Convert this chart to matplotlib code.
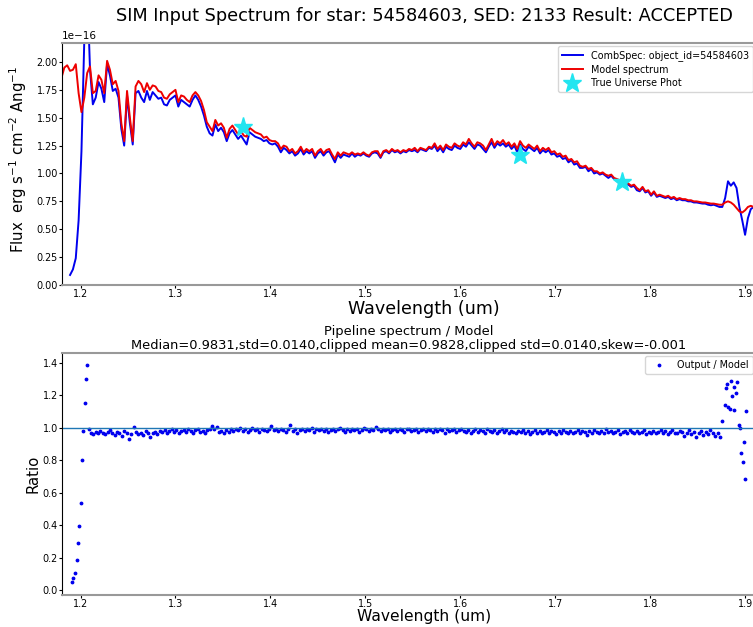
import numpy as np
import matplotlib.pyplot as plt

# spectrum grid (um)
wave = 1.180 + 0.003 * np.arange(244)

# model spectrum, units of 1e-16 erg/s/cm2/Ang
model_flux = [
    1.86, 1.95, 1.97, 1.92, 1.93, 1.98, 1.72, 1.55, 1.68, 1.90,
    1.96, 1.72, 1.74, 1.88, 1.84, 1.72, 2.01, 1.93, 1.80, 1.83,
    1.74, 1.45, 1.29, 1.74, 1.50, 1.29, 1.78, 1.83, 1.80, 1.73,
    1.81, 1.75, 1.79, 1.78, 1.74, 1.73, 1.68, 1.67, 1.71, 1.73,
    1.75, 1.64, 1.70, 1.69, 1.66, 1.64, 1.70, 1.73, 1.70, 1.65,
    1.57, 1.46, 1.42, 1.38, 1.48, 1.43, 1.45, 1.41, 1.32, 1.40,
    1.43, 1.39, 1.35, 1.38, 1.34, 1.33, 1.41, 1.39, 1.37, 1.36,
    1.35, 1.32, 1.33, 1.30, 1.29, 1.29, 1.27, 1.22, 1.25, 1.24,
    1.20, 1.22, 1.18, 1.20, 1.24, 1.19, 1.22, 1.20, 1.22, 1.16,
    1.20, 1.22, 1.18, 1.21, 1.22, 1.17, 1.13, 1.19, 1.16, 1.19,
    1.18, 1.17, 1.19, 1.17, 1.18, 1.17, 1.19, 1.17, 1.16, 1.19,
    1.20, 1.20, 1.15, 1.20, 1.21, 1.19, 1.22, 1.20, 1.21, 1.19,
    1.21, 1.20, 1.22, 1.21, 1.23, 1.20, 1.23, 1.22, 1.21, 1.24,
    1.23, 1.27, 1.22, 1.25, 1.21, 1.26, 1.24, 1.23, 1.27, 1.25,
    1.24, 1.28, 1.26, 1.31, 1.27, 1.24, 1.28, 1.27, 1.25, 1.21,
    1.26, 1.31, 1.25, 1.29, 1.27, 1.30, 1.26, 1.28, 1.24, 1.27,
    1.22, 1.29, 1.25, 1.23, 1.26, 1.24, 1.22, 1.25, 1.20, 1.23,
    1.21, 1.23, 1.19, 1.20, 1.17, 1.18, 1.15, 1.16, 1.12, 1.13,
    1.10, 1.11, 1.07, 1.06, 1.07, 1.04, 1.05, 1.02, 1.02, 1.00,
    1.01, 0.99, 0.98, 0.99, 0.96, 0.95, 0.94, 0.93, 0.92, 0.91,
    0.89, 0.90, 0.87, 0.85, 0.88, 0.84, 0.85, 0.81, 0.84, 0.80,
    0.81, 0.80, 0.79, 0.80, 0.78, 0.79, 0.77, 0.78, 0.77, 0.77,
    0.76, 0.76, 0.75, 0.75, 0.745, 0.74, 0.74, 0.735, 0.73, 0.73,
    0.725, 0.72, 0.72, 0.74, 0.75, 0.74, 0.72, 0.69, 0.66, 0.65,
    0.67, 0.70, 0.71, 0.70,
]

# combined (pipeline) spectrum on the same grid
obs_flux = [
    np.nan, np.nan, np.nan, 0.09, 0.14, 0.24, 0.58, 1.20, 2.20, 2.70,
    1.93, 1.62, 1.68, 1.82, 1.76, 1.64, 1.98, 1.88, 1.74, 1.76,
    1.68, 1.40, 1.25, 1.70, 1.45, 1.26, 1.72, 1.74, 1.68, 1.64,
    1.74, 1.66, 1.73, 1.70, 1.67, 1.68, 1.62, 1.61, 1.66, 1.68,
    1.70, 1.60, 1.66, 1.64, 1.62, 1.60, 1.66, 1.70, 1.66, 1.60,
    1.52, 1.42, 1.36, 1.34, 1.44, 1.38, 1.41, 1.37, 1.29, 1.36,
    1.39, 1.35, 1.31, 1.34, 1.30, 1.26, 1.37, 1.35, 1.33, 1.32,
    1.31, 1.29, 1.30, 1.27, 1.26, 1.27, 1.24, 1.19, 1.23, 1.21,
    1.18, 1.20, 1.16, 1.18, 1.22, 1.17, 1.20, 1.18, 1.20, 1.14,
    1.18, 1.20, 1.16, 1.19, 1.20, 1.15, 1.10, 1.17, 1.14, 1.17,
    1.16, 1.15, 1.18, 1.15, 1.17, 1.16, 1.18, 1.16, 1.15, 1.18,
    1.19, 1.18, 1.14, 1.19, 1.20, 1.18, 1.21, 1.19, 1.20, 1.18,
    1.20, 1.19, 1.21, 1.20, 1.21, 1.19, 1.22, 1.21, 1.20, 1.23,
    1.22, 1.25, 1.20, 1.23, 1.19, 1.24, 1.22, 1.21, 1.25, 1.23,
    1.22, 1.26, 1.24, 1.28, 1.25, 1.22, 1.26, 1.25, 1.22, 1.19,
    1.24, 1.28, 1.23, 1.27, 1.25, 1.27, 1.24, 1.26, 1.22, 1.25,
    1.19, 1.26, 1.22, 1.20, 1.24, 1.22, 1.20, 1.23, 1.18, 1.21,
    1.19, 1.21, 1.17, 1.18, 1.15, 1.16, 1.13, 1.14, 1.10, 1.12,
    1.08, 1.09, 1.05, 1.05, 1.06, 1.02, 1.04, 1.00, 1.01, 0.99,
    1.00, 0.98, 0.96, 0.98, 0.95, 0.94, 0.93, 0.92, 0.90, 0.90,
    0.88, 0.89, 0.85, 0.84, 0.87, 0.83, 0.84, 0.80, 0.83, 0.79,
    0.80, 0.79, 0.78, 0.79, 0.77, 0.78, 0.76, 0.77, 0.76, 0.76,
    0.75, 0.75, 0.74, 0.74, 0.735, 0.73, 0.73, 0.72, 0.715, 0.72,
    0.71, 0.70, 0.70, 0.78, 0.93, 0.89, 0.92, 0.87, 0.70, 0.58,
    0.45, 0.60, 0.68, 0.70,
]

# true universe photometry
phot_wave = [1.371, 1.663, 1.7707]
phot_flux = [1.417, 1.166, 0.924]

# ratio pipeline / model
ratio_wave_blue = [1.1908, 1.1926, 1.1947, 1.1961, 1.1976, 1.1989,
                   1.2003, 1.2014, 1.2024, 1.2042, 1.2053, 1.2071]
ratio_blue = [0.047, 0.073, 0.108, 0.185, 0.289, 0.395,
              0.538, 0.803, 0.977, 1.15, 1.30, 1.386]

ratio_wave_main = 1.2085 + 0.0025 * np.arange(266)
ratio_main = [
    0.99, 0.97, 0.96, 0.975, 0.965, 0.98, 0.97, 0.96, 0.975, 0.985,
    0.97, 0.955, 0.975, 0.965, 0.95, 0.98, 0.97, 0.93, 0.96, 1.005,
    0.975, 0.96, 0.97, 0.955, 0.98, 0.965, 0.945, 0.97, 0.975, 0.96,
    0.98, 0.975, 0.985, 0.97, 0.98, 0.99, 0.975, 0.985, 0.97, 0.98,
    0.985, 0.975, 0.99, 0.98, 0.97, 0.985, 0.99, 0.975, 0.98, 0.97,
    0.985, 0.995, 1.01, 0.99, 1.005, 0.975, 0.98, 0.97, 0.985, 0.975,
    0.99, 0.98, 0.995, 0.985, 1.0, 0.98, 0.99, 0.975, 0.985, 1.0,
    0.985, 0.99, 0.975, 0.995, 0.985, 0.98, 0.995, 1.01, 0.985, 0.99,
    0.98, 0.995, 0.985, 0.975, 0.99, 1.015, 0.98, 0.99, 0.97, 0.985,
    0.995, 0.98, 0.99, 0.985, 1.0, 0.975, 0.99, 0.985, 0.995, 0.98,
    0.99, 0.975, 0.985, 0.995, 0.98, 0.99, 1.0, 0.985, 0.975, 0.99,
    0.98, 0.995, 0.985, 0.99, 0.975, 0.985, 1.0, 0.99, 0.98, 0.995,
    0.985, 1.005, 0.99, 0.98, 0.995, 0.985, 0.99, 0.975, 0.985, 0.995,
    0.98, 0.99, 0.985, 0.975, 0.99, 0.995, 0.98, 0.985, 0.99, 0.975,
    0.985, 0.995, 0.98, 0.99, 0.985, 0.975, 0.99, 0.98, 0.995, 0.985,
    0.97, 0.99, 0.98, 0.985, 0.995, 0.975, 0.985, 0.99, 0.98, 0.975,
    0.985, 0.97, 0.98, 0.99, 0.975, 0.985, 0.98, 0.965, 0.99, 0.98,
    0.975, 0.985, 0.97, 0.98, 0.99, 0.975, 0.985, 0.97, 0.98, 0.975,
    0.965, 0.98, 0.975, 0.985, 0.97, 0.98, 0.96, 0.975, 0.985, 0.97,
    0.98, 0.965, 0.975, 0.985, 0.97, 0.98, 0.975, 0.96, 0.98, 0.97,
    0.985, 0.975, 0.97, 0.98, 0.965, 0.975, 0.985, 0.97, 0.98, 0.975,
    0.955, 0.98, 0.97, 0.985, 0.975, 0.965, 0.98, 0.97, 0.99, 0.975,
    0.98, 0.965, 0.975, 0.985, 0.96, 0.975, 0.98, 0.97, 0.985, 0.975,
    0.965, 0.98, 0.97, 0.975, 0.985, 0.96, 0.975, 0.97, 0.98, 0.965,
    0.975, 0.985, 0.97, 0.98, 0.96, 0.975, 0.985, 0.97, 0.965, 0.98,
    0.975, 0.95, 0.97, 0.985, 0.96, 0.975, 0.94, 0.97, 0.98, 0.955,
    0.975, 0.96, 0.985, 0.97, 0.95, 0.965,
]

ratio_wave_red = [1.8733, 1.8758, 1.8786, 1.8800, 1.8811, 1.8818, 1.8839,
                  1.8853, 1.8864, 1.8881, 1.8888, 1.8903, 1.8916, 1.8934,
                  1.8944, 1.8962, 1.8973, 1.8987, 1.8997, 1.9011]
ratio_red = [0.94, 1.04, 1.14, 1.245, 1.27, 1.125, 1.117,
             1.29, 1.195, 1.11, 1.25, 1.215, 1.28, 1.015,
             1.0, 0.845, 0.79, 0.91, 0.683, 1.105]

ratio_wave = np.concatenate([ratio_wave_blue, ratio_wave_main, ratio_wave_red])
ratio = np.concatenate([ratio_blue, ratio_main, ratio_red])

W, H = 753, 627
fig = plt.figure(figsize=(W / 100, H / 100), dpi=100)

ax1 = fig.add_axes([62 / W, (H - 285) / H, 694 / W, 242 / H])
ax1.plot(wave, np.array(obs_flux) * 1e-16, color='#0000ee', lw=1.4,
         label='CombSpec: object_id=54584603')
ax1.plot(wave, np.array(model_flux) * 1e-16, color='#ee0000', lw=1.4,
         label='Model spectrum')
ax1.plot(phot_wave, np.array(phot_flux) * 1e-16, ls='none', marker='*',
         color='#22e5f0', ms=14, label='True Universe Phot')
ax1.set_xlim(1.1805, 1.9115)
ax1.set_ylim(0, 2.17e-16)
ax1.set_yticks(np.arange(0, 2.01, 0.25) * 1e-16)
ax1.legend(loc='upper right', fontsize=6.9, borderaxespad=0.35,
           handlelength=2.2, labelspacing=0.38)
ax1.set_ylabel(r'Flux  erg s$^{-1}$ cm$^{-2}$ Ang$^{-1}$', fontsize=10.7)
ax1.yaxis.set_label_coords(-0.047, 0.52)
ax1.set_xlabel('Wavelength (um)', fontsize=12.6)
ax1.xaxis.set_label_coords((424 - 62) / 694, -0.062)

ax2 = fig.add_axes([62 / W, 32 / H, 694 / W, 242 / H])
ax2.plot(ratio_wave, ratio, ls='none', marker='.', color='#0000ee', ms=3.5,
         label='Output / Model')
ax2.axhline(1.0, color='#1f77b4', lw=1)
ax2.set_xlim(1.1805, 1.9115)
ax2.set_ylim(-0.03, 1.46)
ax2.set_yticks(np.arange(0, 1.41, 0.2))
ax2.legend(loc='upper right', fontsize=6.9, borderaxespad=0.35,
           handlelength=2.2)
ax2.set_ylabel('Ratio', fontsize=10.7)
ax2.yaxis.set_label_coords(-0.031, 0.5)
ax2.set_xlabel('Wavelength (um)', fontsize=11.2)
ax2.xaxis.set_label_coords((424 - 62) / 694, -0.059)
ax2.set_title('Pipeline spectrum / Model\n'
              'Median=0.9831,std=0.0140,clipped mean=0.9828,'
              'clipped std=0.0140,skew=-0.001', fontsize=9.4, pad=3,
              linespacing=1.05)

for ax in (ax1, ax2):
    ax.tick_params(labelsize=6.9, length=2, pad=1)
    ax.spines['top'].set_color('#999999')
    ax.spines['bottom'].set_color('#999999')
    ax.spines['top'].set_linewidth(1.5)
    ax.spines['bottom'].set_linewidth(1.5)
    ax.spines['right'].set_visible(False)
ax1.yaxis.get_offset_text().set_fontsize(7.5)

fig.text(424 / W, 1 - 16 / H,
         'SIM Input Spectrum for star: 54584603, SED: 2133 Result: ACCEPTED',
         ha='center', va='center', fontsize=12.8)

fig.savefig('out.png', dpi=100)
